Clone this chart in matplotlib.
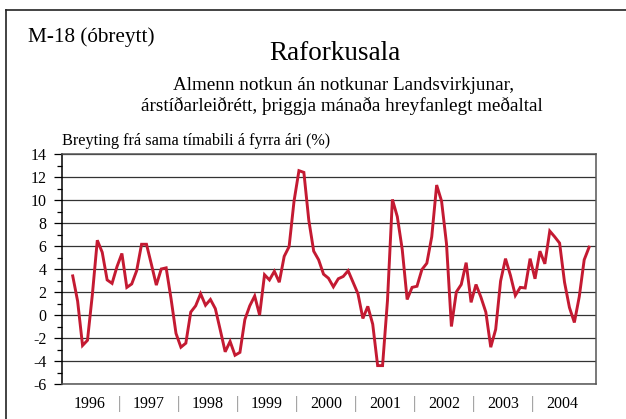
import numpy as np
import matplotlib
matplotlib.use("Agg")
import matplotlib.pyplot as plt
import matplotlib.transforms as mtransforms
from matplotlib.ticker import MultipleLocator

plt.rcParams['font.family'] = ['Liberation Serif', 'DejaVu Serif']
plt.rcParams['axes.unicode_minus'] = False

# monthly data, March 1996 - December 2004
start_month = 3
years = [1996, 1997, 1998, 1999, 2000, 2001, 2002, 2003, 2004]
values = [3.4, 1.2, -2.65, -2.2, 1.8, 6.5, 5.45, 3.05, 2.75, 4.2,
          5.35, 2.4, 2.7, 3.85, 6.15, 6.15, 4.4, 2.6, 4.0, 4.1,
          1.4, -1.6, -2.8, -2.45, 0.25, 0.8, 1.85, 0.85, 1.35, 0.55,
          -1.3, -3.2, -2.3, -3.5, -3.25, -0.4, 0.8, 1.65, 0.0, 3.5,
          3.05, 3.8, 2.85, 5.1, 5.95, 9.9, 12.55, 12.4, 8.25, 5.55,
          4.8, 3.55, 3.2, 2.45, 3.15, 3.35, 3.85, 2.85, 1.85, -0.3,
          0.75, -0.8, -4.4, -4.4, 1.25, 10.05, 8.55, 5.7, 1.35, 2.4,
          2.5, 3.95, 4.5, 6.8, 11.3, 9.9, 6.2, -1.0, 2.0, 2.65,
          4.55, 1.1, 2.65, 1.55, 0.25, -2.8, -1.25, 2.95, 4.9, 3.45,
          1.7, 2.4, 2.35, 4.9, 3.15, 5.55, 4.45, 7.3, 6.8, 6.25,
          2.85, 0.65, -0.65, 1.6, 4.8, 5.9]

W, H = 626, 419
fig = plt.figure(figsize=(W / 100, H / 100), dpi=100)

# outer frame (left and top edges visible)
fig.add_artist(plt.Line2D([6 / W, 6 / W], [0, 1 - 10 / H], color='#222222', lw=1.2))
fig.add_artist(plt.Line2D([6 / W, 1], [1 - 10 / H, 1 - 10 / H], color='#222222', lw=1.2))

fig.text(28 / W, 1 - 42 / H, 'M-18 (óbreytt)', fontsize=15.3, va='baseline', ha='left')
fig.text(335 / W, 1 - 60 / H, 'Raforkusala', fontsize=19.5, va='baseline', ha='center')
fig.text(344 / W, 1 - 90 / H, 'Almenn notkun án notkunar Landsvirkjunar,',
         fontsize=13.8, va='baseline', ha='center')
fig.text(342 / W, 1 - 111 / H, 'árstíðarleiðrétt, þriggja mánaða hreyfanlegt meðaltal',
         fontsize=13.8, va='baseline', ha='center')
fig.text(62 / W, 1 - 145 / H, 'Breyting frá sama tímabili á fyrra ári (%)',
         fontsize=11.7, va='baseline', ha='left')

ax = fig.add_axes([61.7 / W, 1 - 384 / H, (596 - 61.7) / W, (384 - 154) / H])

x = np.arange(len(values))
ax.plot(x, values, color='#c41a32', lw=2.1, solid_joinstyle='miter')

ax.set_xlim(-2.24, 106.4)
ax.set_ylim(-6, 14)
ax.yaxis.set_major_locator(MultipleLocator(2))
ax.yaxis.set_minor_locator(MultipleLocator(1))
ax.grid(axis='y', which='major', color='#333333', lw=0.9)
ax.set_axisbelow(True)
ax.tick_params(axis='y', which='major', length=6, width=0.9, direction='out',
               labelsize=11.5, pad=5)
ax.tick_params(axis='y', which='minor', length=3.5, width=0.9, direction='out')
ax.set_xticks([])

ax.spines['left'].set_color('black')
ax.spines['left'].set_linewidth(1.1)
for s in ['top', 'bottom', 'right']:
    ax.spines[s].set_color('#555555')
    ax.spines[s].set_linewidth(1.1)

# year labels below the axis, centred on each calendar year
trans = mtransforms.blended_transform_factory(ax.transData, fig.transFigure)
y_lab = 1 - 408 / H
for k, yr in enumerate(years):
    xc = 12 * k + (12 - start_month + 1) - 12 + 5.5
    ax.text(xc, y_lab, str(yr), transform=trans, ha='center', va='baseline',
            fontsize=11.5, clip_on=False)
    if k < len(years) - 1:
        ax.text(xc + 6, y_lab, '|', transform=trans, ha='center', va='baseline',
                fontsize=12, color='#888888', clip_on=False)

fig.savefig('out.png', dpi=100)
